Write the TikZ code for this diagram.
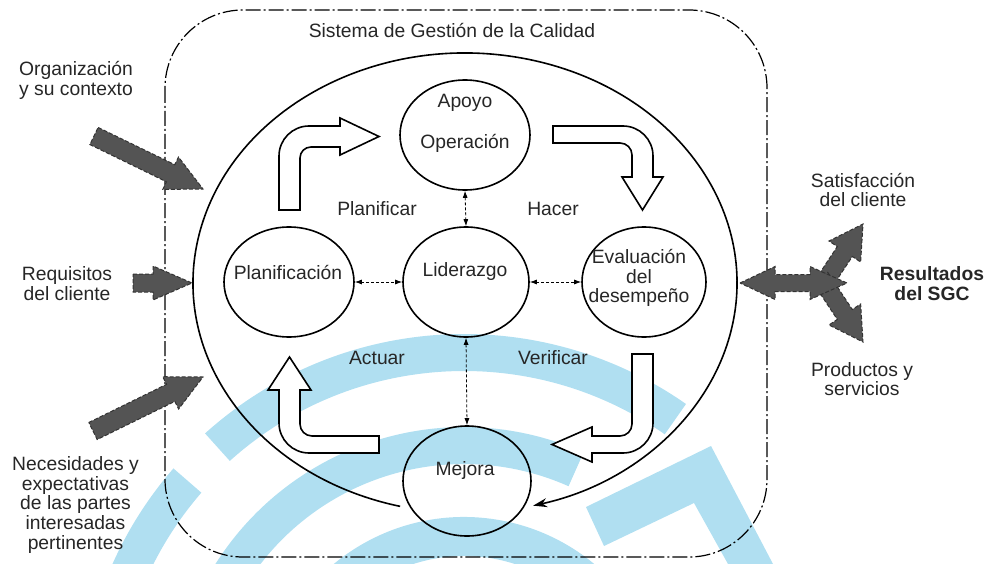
\documentclass[tikz,border=0pt]{standalone}
\usepackage{fontspec}
\setmainfont{Liberation Sans}
\usetikzlibrary{arrows.meta,calc,shapes.geometric}
\definecolor{wm}{RGB}{176,223,241}
\definecolor{arrgray}{RGB}{84,84,84}
\newcommand\blockarrow[5]{%
  \coordinate (ba-c) at ($(#2)!#5!(#1)$);
  \draw[grayarr] ($(#1)!#3!90:(#2)$) -- ($(ba-c)!#3!90:(#2)$) -- ($(ba-c)!#4!90:(#2)$) -- (#2)
    -- ($(ba-c)!#4!-90:(#2)$) -- ($(ba-c)!#3!-90:(#2)$) -- ($(#1)!#3!-90:(#2)$) -- cycle;}
\newcommand\wmband[4]{% start, end, inner radius, outer radius
  \fill[wm] ($(wmc)+(#1:#4)$) arc[start angle=#1,end angle=#2,radius=#4]
     -- ($(wmc)+(#2:#3)$) arc[start angle=#2,end angle=#1,radius=#3] -- cycle;}
\begin{document}
\begin{tikzpicture}[x=1pt,y=-1pt,
  every node/.style={font=\fontsize{19.3}{19.8}\selectfont, inner sep=0pt, text=black!85},
  circ/.style={draw, ellipse, line width=1.6pt, minimum width=#1, minimum height=110pt},
  circ/.default=130pt,
  hollow/.style={draw, line width=1.6pt, fill=white, line join=miter},
  grayarr/.style={fill=arrgray, draw=black!80, line width=1pt, dash pattern=on 4pt off 2pt},
  dasharr/.style={line width=0.8pt, dash pattern=on 3pt off 2pt,
     {Latex[length=7pt,width=5pt]}-{Latex[length=7pt,width=5pt]}},
  sgc/.style={line width=1.2pt, dash pattern=on 15pt off 3pt on 2pt off 3pt}]
\useasboundingbox (0,0) rectangle (987,564);
% watermark
\coordinate (wmc) at (464,721);
\begin{scope}
\clip (0,0) rectangle (987,564);
\wmband{228}{305}{350}{387}
\wmband{196}{221}{348}{385}
\wmband{200}{294}{257}{294}
\wmband{195}{345}{165}{204}
\fill[wm] (586,507) -- (711,446) -- (773,564) -- (728,564) -- (694,503) -- (604,546) -- cycle;
\end{scope}
% system boundary
\draw[sgc, rounded corners=78pt] (165,10) rectangle (767,557);
\node (title) at (452,30) {Sistema de Gestión de la Calidad};
% big cycle ellipse
\coordinate (bigc) at (465,283);
% circles
\node[circ] (apoyo) at (465,135) {};
\node[circ=130pt] (plan) at (289,282) {};
\node[circ=126pt] (lider) at (466,282) {};
\node[circ=124pt] (eval) at (644,282) {};
\node[circ=128pt] (mejora) at (467,481) {};
\draw[line width=1.6pt, -{Stealth[length=14pt,width=9pt]}]
  (bigc) ++(103.8:272 and 230) arc[start angle=103.8,end angle=435.5,x radius=272,y radius=230];
\node (t-apoyo) at (465,103) {Apoyo};
\node (t-oper) at (465,143) {Operación};
\node (t-plan) at (288,272) {Planificación};
\node (t-lider) at (465,272) {Liderazgo};
\node[align=center] (t-eval) at (639,278) {Evaluación\\del\\desempeño};
\node (t-mejora) at (465,471) {Mejora};
% dashed links
\draw[dasharr] (apoyo.south) -- (lider.north);
\draw[dasharr] (lider.south) -- (mejora.north);
\draw[dasharr] (plan.east) -- (lider.west);
\draw[dasharr] (lider.east) -- (eval.west);
% PDCA labels
\node (planificar) at (377,209) {Planificar};
\node (hacer) at (553,209) {Hacer};
\node (actuar) at (377,358) {Actuar};
\node (verificar) at (553,358) {Verificar};
% hollow bent arrows
\draw[hollow] (279,210) -- (279,156) arc[start angle=180,end angle=270,radius=30]
  -- (340,126) -- (340,118) -- (379,136.5) -- (340,155) -- (340,147) -- (311,147)
  arc[start angle=270,end angle=180,radius=11] -- (300,210) -- cycle;
\draw[hollow] (553,126) -- (623,126) arc[start angle=270,end angle=360,radius=30]
  -- (653,177) -- (663,177) -- (642.5,210) -- (622,177) -- (632,177) -- (632,155)
  arc[start angle=0,end angle=-90,radius=12] -- (553,143) -- cycle;
\draw[hollow] (632,354) -- (653,354) -- (653,423) arc[start angle=0,end angle=90,radius=30]
  -- (592,453) -- (592,462) -- (552,444.5) -- (592,427) -- (592,436) -- (620,436)
  arc[start angle=90,end angle=0,radius=12] -- cycle;
\draw[hollow] (379,436) -- (379,453) -- (309,453) arc[start angle=90,end angle=180,radius=30]
  -- (279,390) -- (268,390) -- (289.5,357) -- (311,390) -- (300,390) -- (300,424)
  arc[start angle=180,end angle=90,radius=12] -- cycle;
% inputs
\node[align=center] (t-org) at (76,80) {Organización\\y su contexto};
\node[align=center] (t-req) at (67,284) {Requisitos\\del cliente};
\node[align=center] (t-nec) at (75.5,505) {Necesidades y\\expectativas\\de las partes\\interesadas\\pertinentes};
\coordinate (org-tail) at (94,136); \coordinate (org-tip) at (203,189);
\coordinate (req-tail) at (133,283); \coordinate (req-tip) at (192,283);
\coordinate (nec-tail) at (93,431); \coordinate (nec-tip) at (203,377);
\blockarrow{org-tail}{org-tip}{9.5pt}{18pt}{36pt}
\blockarrow{req-tail}{req-tip}{9pt}{17pt}{39pt}
\blockarrow{nec-tail}{nec-tip}{9.5pt}{18pt}{36pt}
% outputs
\coordinate (sat-tail) at (820,289); \coordinate (sat-tip) at (863,224);
\coordinate (prod-tail) at (820,277); \coordinate (prod-tip) at (863,342);
\blockarrow{sat-tail}{sat-tip}{9pt}{19pt}{33pt}
\blockarrow{prod-tail}{prod-tip}{9pt}{19pt}{33pt}
\coordinate (res-l) at (740,283); \coordinate (res-r) at (847,283);
\draw[grayarr] (res-l) -- ($(res-l)+(35,-16.5)$) -- ($(res-l)+(35,-8.5)$) -- ($(res-r)+(-37,-8.5)$)
  -- ($(res-r)+(-37,-16.5)$) -- (res-r) -- ($(res-r)+(-37,16.5)$) -- ($(res-r)+(-37,8.5)$)
  -- ($(res-l)+(35,8.5)$) -- ($(res-l)+(35,16.5)$) -- cycle;
\node[align=center] (t-sat) at (863,190) {Satisfacción\\del cliente};
\node[align=center, font=\fontsize{19.3}{19.8}\selectfont\bfseries] (t-res) at (932,284) {Resultados\\del SGC};
\node[align=center] (t-prod) at (862,379) {Productos y\\servicios};
\end{tikzpicture}
\end{document}
